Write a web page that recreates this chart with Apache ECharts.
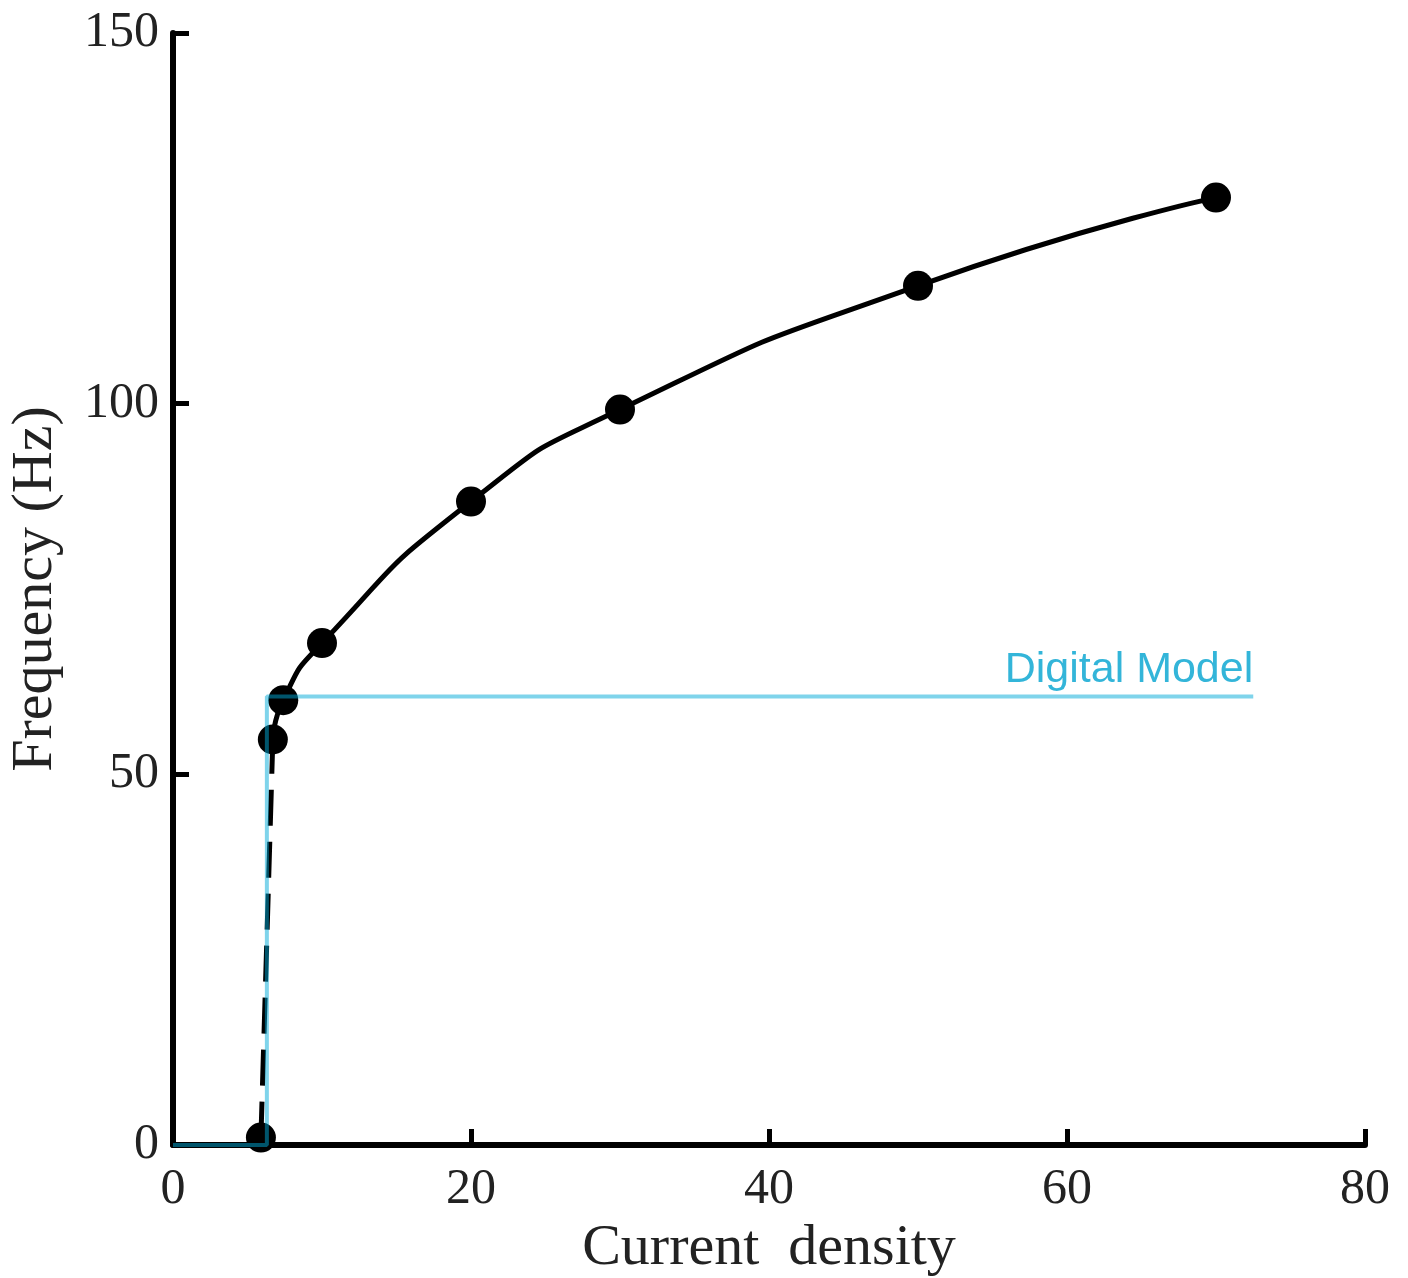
<!DOCTYPE html>
<html>
<head>
<meta charset="utf-8">
<script src="https://cdn.jsdelivr.net/npm/echarts@6/dist/echarts.min.js"></script>
<style>html,body{margin:0;padding:0;background:#fff;}#c{width:1408px;height:1278px;}</style>
</head>
<body>
<div id="c"></div>
<script>
// Measured data (current density, frequency Hz)
const measuredX = [5.9, 6.7, 7.4, 10, 20, 30, 50, 70];
const measuredY = [1, 54.7, 60.0, 67.7, 86.8, 99.2, 115.9, 127.8];
// Digital model step response
const modelX = [0, 6.3, 6.3, 72.5];
const modelY = [0, 0, 60.5, 60.5];
const modelLabel = 'Digital Model';
const xTicks = [0, 20, 40, 60, 80];
const yTicks = [0, 50, 100, 150];

const pts = measuredX.map((x, i) => [x, measuredY[i]]);
const solidPts = pts.slice(1);
const dashedPts = pts.slice(0, 2);
const modelPts = modelX.map((x, i) => [x, modelY[i]]);
const modelEnd = modelPts[modelPts.length - 1];

const chart = echarts.init(document.getElementById('c'));
const serif = 'Liberation Serif';
chart.setOption({
  animation: false,
  backgroundColor: '#fff',
  grid: { left: 173, right: 43, top: 33, bottom: 133, containLabel: false, outerBoundsMode: 'none' },
  xAxis: {
    type: 'value', min: 0, max: 80, interval: 20,
    name: 'Current  density', nameLocation: 'middle', nameGap: 72,
    nameTextStyle: { fontFamily: serif, fontSize: 58, color: '#222' },
    axisLine: { lineStyle: { color: '#000', width: 6 } },
    axisTick: { inside: true, length: 16, lineStyle: { color: '#000', width: 5 } },
    axisLabel: { fontFamily: serif, fontSize: 50, color: '#222', margin: 20,
      formatter: v => xTicks.includes(v) ? String(v) : '' },
    splitLine: { show: false }
  },
  yAxis: {
    type: 'value', min: 0, max: 150, interval: 50,
    name: 'Frequency (Hz)', nameLocation: 'middle', nameGap: 108,
    nameTextStyle: { fontFamily: serif, fontSize: 58, color: '#222' },
    axisLine: { lineStyle: { color: '#000', width: 6 } },
    axisTick: { inside: true, length: 16, lineStyle: { color: '#000', width: 5 } },
    axisLabel: { fontFamily: serif, fontSize: 50, color: '#222', margin: 14,
      formatter: v => yTicks.includes(v) ? String(v) : '' },
    splitLine: { show: false }
  },
  series: [
    {
      type: 'line', data: dashedPts, symbol: 'none', z: 3,
      lineStyle: { color: '#000', width: 5, type: [36, 16] }
    },
    {
      type: 'line', data: solidPts, symbol: 'none', smooth: 0.6, z: 3,
      lineStyle: { color: '#000', width: 5 }
    },
    {
      type: 'scatter', data: pts, symbol: 'circle', symbolSize: 30, z: 4,
      itemStyle: { color: '#000', opacity: 1 }
    },
    {
      type: 'line', data: modelPts, symbol: 'none', z: 5,
      lineStyle: { color: 'rgba(0,170,215,0.5)', width: 4 }
    },
    {
      type: 'scatter', data: [modelEnd], symbolSize: 1, z: 6,
      itemStyle: { color: 'rgba(0,0,0,0)' },
      label: { show: true, formatter: modelLabel, position: 'top', align: 'right',
        distance: 4, fontFamily: 'Liberation Sans', fontSize: 43, color: '#00a2cf' }
    }
  ]
});
</script>
</body>
</html>
